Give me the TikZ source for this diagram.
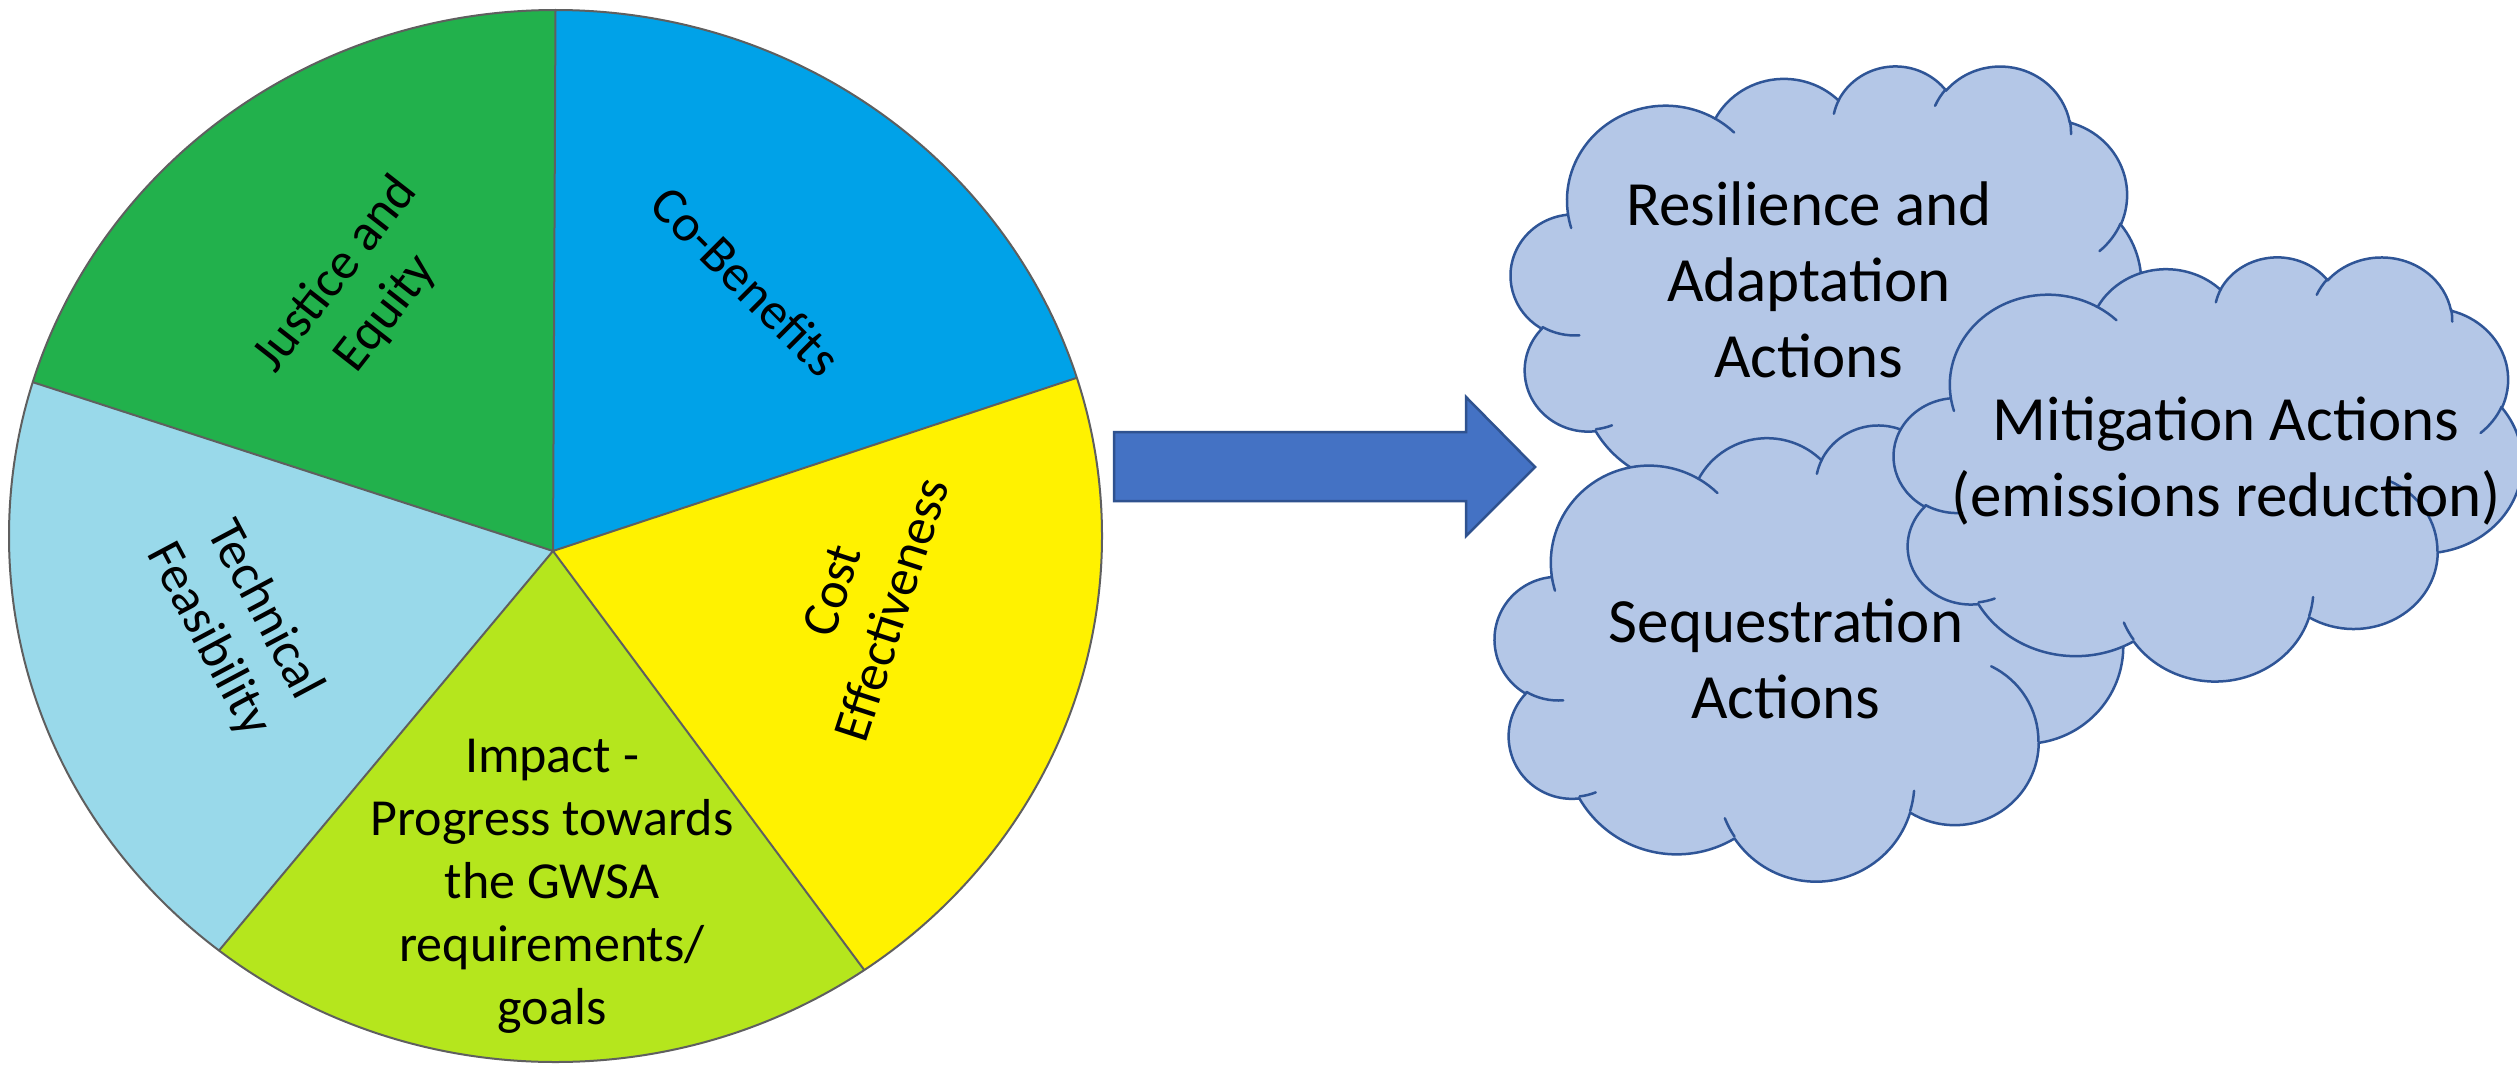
\documentclass[tikz,border=0pt]{standalone}
\usepackage{fontspec}
\setmainfont{Carlito}
\usetikzlibrary{calc}
\definecolor{cgreen}{RGB}{34,177,76}
\definecolor{cblue}{RGB}{0,162,232}
\definecolor{cyellow}{RGB}{255,242,0}
\definecolor{clime}{RGB}{181,230,29}
\definecolor{clightblue}{RGB}{153,217,234}
\definecolor{piegray}{RGB}{95,95,95}
\definecolor{cfill}{HTML}{B4C7E7}
\definecolor{cline}{HTML}{2F5597}
\definecolor{afill}{HTML}{4472C4}
\definecolor{aline}{HTML}{2F528F}
% OOXML arcTo: wR hR stAng swAng (degrees), visual angles converted to parametric
\newcommand\carc[4]{arc[x radius=#1,y radius=#2,start angle={cpt(#1,#2,#3)},end angle={cpt(#1,#2,#3+#4)}]}
\newcommand\pptcloud[4]{%
\begin{scope}[shift={(#1,-#2)},xscale=#3/43.2,yscale=-#4/43.2]
\path[cloudbody] (3.9,14.37)
  \carc{6.753}{9.19}{-190.48748}{123.78053}
  \carc{5.333}{7.267}{-144.10238}{89.94523}
  \carc{4.365}{5.945}{-145.80792}{99.72302}
  \carc{4.857}{6.595}{-130.98607}{117.24173}
  \carc{5.333}{7.273}{-78.70888}{109.02692}
  \carc{6.775}{9.22}{-46.26725}{130.269}
  \carc{5.785}{7.867}{0.62502}{114.03333}
  \carc{6.752}{9.215}{22.4516}{115.17255}
  \carc{7.72}{10.543}{66.24263}{75.71102}
  \carc{4.36}{5.918}{-274.94208}{146.73557}
  \carc{4.345}{5.945}{-246.8285}{152.51885}
  -- cycle;
\path[cloudinner]
  (4.693,26.177) \carc{4.345}{5.945}{86.742}{26.4295}
  (6.928,34.899) \carc{4.36}{5.918}{73.61047}{11.44747}
  (16.478,39.09) \carc{6.752}{9.215}{137.62415}{14.0811}
  (28.827,34.751) \carc{6.752}{9.215}{6.45327}{15.99835}
  (34.129,22.954) \carc{5.785}{7.867}{-70.29235}{70.91737}
  (41.798,15.354) \carc{5.333}{7.273}{30.31803}{27.7515}
  (38.324,5.426) \carc{4.857}{6.595}{-13.74433}{14.8589}
  (29.078,3.952) \carc{4.857}{6.595}{-149.18145}{18.19537}
  (22.141,4.72) \carc{4.365}{5.945}{-163.49427}{17.68635}
  (14.0,5.192) \carc{6.753}{9.19}{-66.70695}{12.31935}
  (4.127,15.789) \carc{6.753}{9.19}{157.65435}{11.85817};
\end{scope}}
\begin{document}
\begin{tikzpicture}[x=1pt,y=1pt,
  declare function={cpt(\rw,\rh,\ag)=\ag+mod(atan2(\rw*sin(\ag),\rh*cos(\ag))-\ag+900,360)-180;},
  pieline/.style={draw=piegray,line width=2pt},
  pietext/.style={align=center,font=\fontsize{52}{63}\selectfont,inner sep=0pt},
  cloudtext/.style={align=center,font=\fontsize{63}{76}\selectfont,inner sep=0pt},
  cloudbody/.style={fill=cfill,draw=cline,line width=2.5pt,line join=round},
  cloudinner/.style={draw=cline,line width=2.5pt,line cap=round},
  blockarrow/.style={fill=afill,draw=aline,line width=2.5pt,line join=miter}]
\useasboundingbox (0,0) rectangle (2517,-1073);
\fill[white] (0,0) rectangle (2517,-1073);
% ---------- pie ----------
\coordinate (pc) at (555.5,-536);
\coordinate (apex) at (553,-551);
\coordinate (b90) at ($(pc)+(90:546.5 and 526)$);
\coordinate (b18) at ($(pc)+(17.5:546.5 and 526)$);
\coordinate (b304) at ($(pc)+(304.4:546.5 and 526)$);
\coordinate (b232) at ($(pc)+(232:546.5 and 526)$);
\coordinate (b162) at ($(pc)+(163:546.5 and 526)$);
\fill[cblue] (apex) -- (b18) arc[start angle=17.5,end angle=90,x radius=546.5,y radius=526] -- cycle;
\fill[cgreen] (apex) -- (b90) arc[start angle=90,end angle=163,x radius=546.5,y radius=526] -- cycle;
\fill[clightblue] (apex) -- (b162) arc[start angle=163,end angle=232,x radius=546.5,y radius=526] -- cycle;
\fill[clime] (apex) -- (b232) arc[start angle=232,end angle=304.4,x radius=546.5,y radius=526] -- cycle;
\fill[cyellow] (apex) -- (b304) arc[start angle=304.4,end angle=377.5,x radius=546.5,y radius=526] -- cycle;
\draw[pieline] (apex) -- (b90) (apex) -- (b18) (apex) -- (b304) (apex) -- (b232) (apex) -- (b162);
\draw[pieline] (pc) ellipse[x radius=546.5,y radius=526];
\node[pietext,rotate=52] (justice) at (361,-294) {Justice and\\Equity};
\node[pietext,rotate=-45] (cobenefits) at (746,-281) {Co-Benefits};
\node[pietext,rotate=72] (cost) at (862,-600) {Cost\\Effectiveness};
\node[pietext,rotate=-62] (technical) at (236,-625) {Technical\\Feasibility};
\node[pietext,anchor=base] (impact) at (552,-1024) {Impact -\\Progress towards\\the GWSA\\requirements/\\goals};
% ---------- arrow ----------
\path[blockarrow] (1114,-432) -- (1466,-432) -- (1466,-397) -- (1535,-467) -- (1466,-536) -- (1466,-501) -- (1114,-501) -- cycle;
% ---------- clouds ----------
\pptcloud{1511}{65}{630}{446}
\node[cloudtext,anchor=base] (resilience) at (1809,-377) {Resilience and\\Adaptation\\Actions};
\pptcloud{1495}{424}{628}{456}
\node[cloudtext,anchor=base] (sequestration) at (1786,-718) {Sequestration\\Actions};
\pptcloud{1894}{256}{628}{424}
\node[cloudtext,anchor=base] (mitigation) at (2226,-516) {Mitigation Actions\\(emissions reduction)};
\end{tikzpicture}
\end{document}
